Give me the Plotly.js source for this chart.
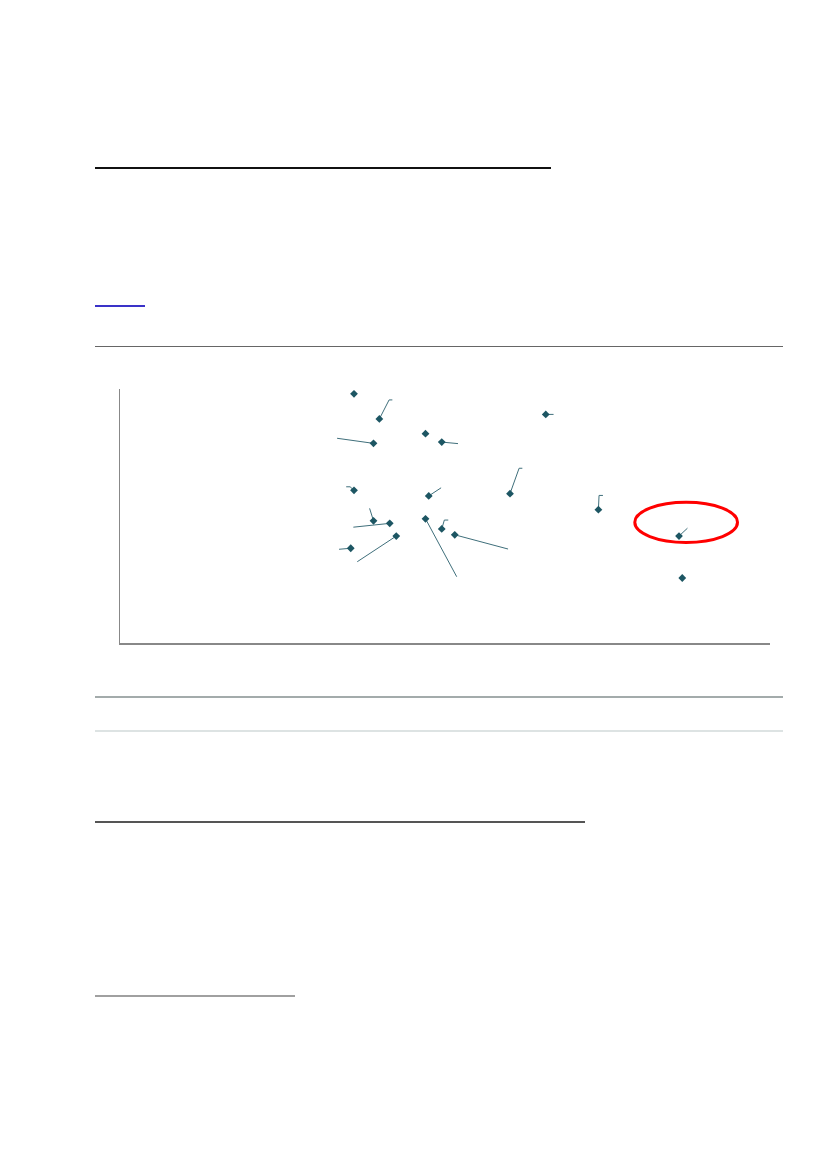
<!DOCTYPE html>
<html>
<head>
<meta charset="utf-8">
<script src="https://cdn.plot.ly/plotly-3.0.1.min.js"></script>
<style>
  html, body { margin: 0; padding: 0; background: #ffffff; width: 827px; height: 1169px; overflow: hidden; }
  #chart { position: absolute; left: 0; top: 0; width: 827px; height: 1169px; }
  .rule { position: absolute; left: 95px; }
</style>
</head>
<body>
<div id="chart"></div>
<div class="rule" style="top:167px; width:456px; height:2px; background:#111;"></div>
<div class="rule" style="top:305px; width:50px; height:2px; background:#3a32c8;"></div>
<div class="rule" style="top:346px; width:688px; height:1px; background:#666;"></div>
<div class="rule" style="top:696px; width:688px; height:2px; background:#a3abab;"></div>
<div class="rule" style="top:730px; width:688px; height:2px; background:#dde3e3;"></div>
<div class="rule" style="top:821px; width:490px; height:2px; background:#555;"></div>
<div class="rule" style="top:995px; width:200px; height:2px; background:#a0a0a0;"></div>
<script>
// point positions
const xVals = [36.0, 39.9, 39.0, 47.0, 49.5, 36.0, 47.5, 39.0, 41.5, 42.5, 35.5, 47.0, 49.5, 51.5, 65.5, 60.0, 73.6, 86.0, 86.5];
const yVals = [98.1, 88.2, 78.6, 82.4, 79.1, 60.1, 57.9, 48.1, 47.1, 42.1, 37.3, 48.9, 44.9, 42.6, 90.0, 58.8, 52.5, 42.1, 25.6];
// label anchor positions (null = no leader line)
const labelX = [null, 41.4, 33.4, null, 52.0, 35.4, 49.4, 38.4, 35.9, 36.5, 33.7, 51.8, 49.9, 59.7, 66.7, 61.4, 73.7, 87.3, null];
const labelY = [null, 95.7, 80.6, null, 78.5, 61.5, 61.1, 53.0, 45.6, 32.0, 36.9, 26.1, 48.4, 37.0, 90.0, 68.8, 58.1, 45.2, null];
// end of short horizontal hook at the label (null = none)
const hookX  = [null, 41.9, null, null, null, 34.8, null, null, null, null, null, null, 50.5, null, null, 61.9, 74.3, null, null];
// highlighted region (ellipse)
const highlightX = [79.2, 95.0];
const highlightY = [39.6, 55.4];

const lx = [], ly = [];
for (let i = 0; i < xVals.length; i++) {
  if (labelX[i] === null) continue;
  lx.push(xVals[i], labelX[i]); ly.push(yVals[i], labelY[i]);
  if (hookX[i] !== null) { lx.push(hookX[i]); ly.push(labelY[i]); }
  lx.push(null); ly.push(null);
}

const traces = [
  { x: lx, y: ly, mode: 'lines', type: 'scatter', line: { color: '#3f6f7b', width: 1 }, hoverinfo: 'skip', showlegend: false },
  { x: xVals, y: yVals, mode: 'markers', type: 'scatter',
    marker: { symbol: 'diamond', size: 6, color: '#1d5663', line: { width: 0 } }, showlegend: false }
];

const layout = {
  width: 827, height: 1169,
  margin: { l: 120, r: 57, t: 389, b: 526, pad: 0 },
  paper_bgcolor: 'rgba(0,0,0,0)', plot_bgcolor: 'rgba(0,0,0,0)',
  xaxis: { range: [0, 100], showline: true, linecolor: '#888', linewidth: 1.5, showgrid: false, zeroline: false, showticklabels: false, ticks: '' },
  yaxis: { range: [0, 100], showline: true, linecolor: '#888', linewidth: 1.5, showgrid: false, zeroline: false, showticklabels: false, ticks: '' },
  shapes: [
    { type: 'circle', xref: 'x', yref: 'y', x0: highlightX[0], x1: highlightX[1], y0: highlightY[0], y1: highlightY[1],
      line: { color: '#ff0000', width: 3 } }
  ]
};

Plotly.newPlot('chart', traces, layout, { staticPlot: true, displayModeBar: false });
</script>
</body>
</html>
